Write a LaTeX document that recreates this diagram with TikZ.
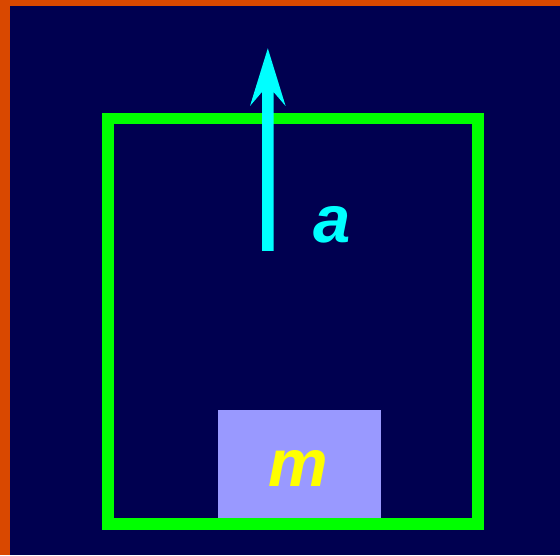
\documentclass[tikz,border=0pt]{standalone}
\usepackage{fontspec}
\setmainfont{Liberation Sans}
\definecolor{bgnavy}{RGB}{0,0,80}
\definecolor{edgeorange}{RGB}{217,72,0}
\definecolor{boxgreen}{RGB}{0,255,0}
\definecolor{arrowcyan}{RGB}{0,255,255}
\definecolor{masslav}{RGB}{153,153,255}
\definecolor{massyellow}{RGB}{255,255,0}
\begin{document}
\begin{tikzpicture}[x=1pt,y=1pt,
  lbl/.style={font=\fontsize{67}{67}\selectfont\bfseries\itshape, inner sep=0pt, anchor=base}]
\useasboundingbox (0,0) rectangle (560,555);
% background and orange edges
\fill[edgeorange] (0,0) rectangle (560,555);
\fill[bgnavy] (10,0) rectangle (560,549);
% green box
\draw[boxgreen, line width=11.7] (108,31) rectangle (477.7,436.5);
% mass block
\node[fill=masslav, minimum width=163, minimum height=108, inner sep=0pt, anchor=south west] (block) at (218,37) {};
\node[lbl, text=massyellow] (m) at (298,69) {m};
% acceleration arrow
\coordinate (abase) at (267.8,304);
\coordinate (atip) at (267.8,506.7);
\fill[arrowcyan] (262,304) -- (262,463) -- (250,449) -- (267.8,506.7) -- (285.6,449) -- (273.6,463) -- (273.6,304) -- cycle;
\node[lbl, text=arrowcyan] (a) at (332,312.7) {a};
\end{tikzpicture}
\end{document}
